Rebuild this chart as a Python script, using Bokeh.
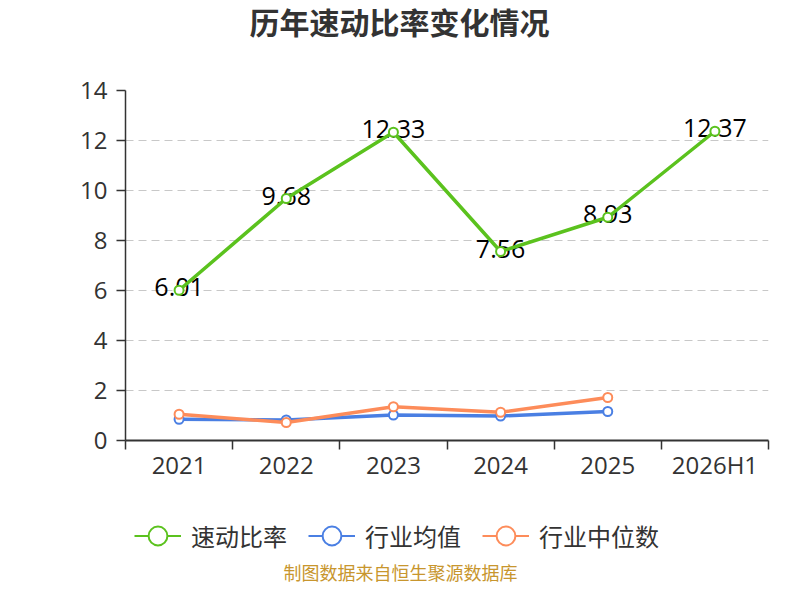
from bokeh.plotting import figure
from bokeh.layouts import column
from bokeh.models import Range1d, FixedTicker, Legend, LegendItem, ColumnDataSource, Label
from bokeh.core.properties import value
from bokeh.embed import file_html
from bokeh.resources import INLINE

# ---- data ----
categories = ["2021", "2022", "2023", "2024", "2025", "2026H1"]
quick_ratio = [6.01, 9.68, 12.33, 7.56, 8.93, 12.37]
industry_mean = [0.85, 0.82, 1.02, 0.98, 1.16, float("nan")]
industry_median = [1.05, 0.72, 1.35, 1.13, 1.72, float("nan")]
y_ticks = [0, 2, 4, 6, 8, 10, 12, 14]

title_text = "历年速动比率变化情况"
series_names = ["速动比率", "行业均值", "行业中位数"]
source_note = "制图数据来自恒生聚源数据库"

# ---- styles ----
GREEN = "#5bc21e"
BLUE = "#4a7fe3"
ORANGE = "#fd8c5a"
COLORS = [GREEN, BLUE, ORANGE]
AXIS = "#333333"
CJK = "Noto Sans CJK SC"
NUM = "Open Sans"
W = 784
H_TITLE, H_MAIN, H_BOTTOM = 44, 448, 92
FRAME_L, FRAME_R = 125, 768   # column layout aligns all frames to the main plot's frame


def text_figure(h):
    f = figure(width=W, height=h, output_backend="svg", toolbar_location=None,
               x_range=Range1d(FRAME_L, FRAME_R), y_range=Range1d(0, h), min_border=0,
               x_axis_location=None, y_axis_location=None)
    f.grid.visible = False
    f.outline_line_color = None
    f.background_fill_color = "white"
    f.border_fill_color = "white"
    return f


# ---- title ----
t = text_figure(H_TITLE)
t.add_layout(Label(x=399, y=H_TITLE - 20, text=title_text, text_align="center",
                   text_baseline="middle", text_font=CJK, text_font_size="30px",
                   text_font_style="bold", text_color=AXIS))

# ---- main chart ----
x_pos = [i + 0.5 for i in range(len(categories))]
boundaries = list(range(len(categories) + 1))

p = figure(width=W, height=H_MAIN, output_backend="svg", toolbar_location=None,
           x_range=Range1d(0, len(categories)), y_range=Range1d(y_ticks[0], y_ticks[-1]),
           min_border_left=FRAME_L, min_border_right=W - FRAME_R,
           min_border_top=46, min_border_bottom=52)
p.outline_line_color = None
p.background_fill_color = "white"
p.border_fill_color = "white"

p.xgrid.visible = False
p.ygrid.grid_line_color = "#c8c8c8"
p.ygrid.grid_line_dash = "8 5"
p.ygrid.grid_line_width = 1.2

xa = p.xaxis[0]
xa.ticker = FixedTicker(ticks=x_pos, minor_ticks=boundaries)
xa.major_label_overrides = {x: c for x, c in zip(x_pos, categories)}
xa.major_tick_line_color = None
xa.major_tick_out = 0
xa.major_tick_in = 0
xa.minor_tick_out = 9
xa.minor_tick_in = 0
xa.minor_tick_line_color = AXIS
xa.minor_tick_line_width = 1.5
xa.axis_line_color = AXIS
xa.axis_line_width = 2
xa.major_label_text_font = NUM
xa.major_label_text_font_size = "24px"
xa.major_label_text_color = AXIS
xa.major_label_standoff = -2

ya = p.yaxis[0]
ya.ticker = FixedTicker(ticks=y_ticks, minor_ticks=[])
ya.major_tick_out = 9
ya.major_tick_in = 0
ya.major_tick_line_color = AXIS
ya.major_tick_line_width = 1.5
ya.minor_tick_line_color = None
ya.axis_line_color = AXIS
ya.axis_line_width = 1.5
ya.major_label_text_font = NUM
ya.major_label_text_font_size = "24px"
ya.major_label_text_color = AXIS
ya.major_label_standoff = 9

src = ColumnDataSource(dict(x=x_pos, q=quick_ratio, m=industry_mean, md=industry_median,
                            lbl=[f"{v:.2f}" for v in quick_ratio]))

p.text(x="x", y="q", text="lbl", source=src, text_align="center", text_baseline="middle",
       y_offset=-3, text_font=value(NUM), text_font_size="25px", text_color="black")

for col, color in zip(("q", "m", "md"), COLORS):
    p.line(x="x", y=col, source=src, line_color=color, line_width=3.5)
    p.scatter(x="x", y=col, source=src, size=9, fill_color="white",
              line_color=color, line_width=2)

# ---- legend + source note ----
b = text_figure(H_BOTTOM)
items = []
for name, col, color in zip(series_names, ("q", "m", "md"), COLORS):
    lr = b.line(x="x", y=col, source=src, line_color=color, line_width=2, visible=False)
    sr = b.scatter(x="x", y=col, source=src, size=18, fill_color="white",
                   line_color=color, line_width=2, visible=False)
    items.append(LegendItem(label=name, renderers=[lr, sr]))
legend = Legend(items=items, location=(134 - FRAME_L, 25), orientation="horizontal",
                glyph_width=47, glyph_height=47, label_standoff=10, spacing=21,
                padding=0, margin=0, border_line_color=None, background_fill_alpha=0,
                inactive_fill_alpha=0, click_policy="none",
                label_text_font=CJK, label_text_font_size="24px", label_text_color=AXIS)
b.add_layout(legend)
b.add_layout(Label(x=400, y=13, text=source_note, text_align="center",
                   text_baseline="middle", text_font=CJK, text_font_size="18px",
                   text_color="#c8962e"))

layout = column(t, p, b, spacing=0)
open("out.html", "w").write(file_html(layout, INLINE))
